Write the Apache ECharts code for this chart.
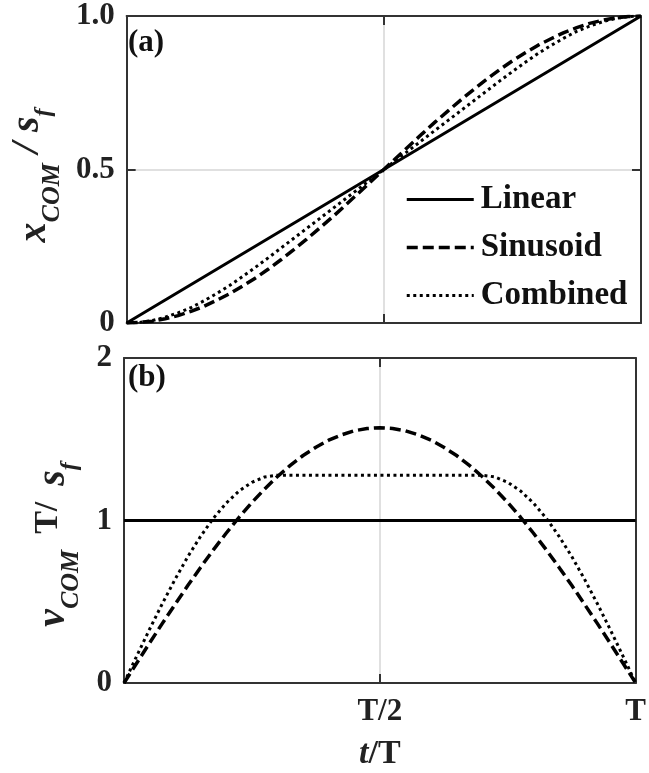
<!DOCTYPE html>
<html>
<head>
<meta charset="utf-8">
<script src="https://cdn.jsdelivr.net/npm/echarts@6/dist/echarts.min.js"></script>
<style>
html,body{margin:0;padding:0;background:#fff}
#main{width:649px;height:773px}
</style>
</head>
<body>
<div id="main"></div>
<script>
// normalised time t/T
var tVals = [0,0.025,0.05,0.075,0.1,0.125,0.15,0.175,0.2,0.225,0.25,0.275,0.3,0.325,0.35,0.375,0.4,0.425,0.45,0.475,0.5,0.525,0.55,0.575,0.6,0.625,0.65,0.675,0.7,0.725,0.75,0.775,0.8,0.825,0.85,0.875,0.9,0.925,0.95,0.975,1];
var tLin = [0,0.5,1];

// (a) position x_COM / s_f
var xLin  = [0,0.5,1];
var xSin  = [0,0.002,0.006,0.014,0.024,0.038,0.054,0.074,0.095,0.120,0.146,0.175,0.206,0.239,0.273,0.309,0.345,0.383,0.422,0.461,0.5,0.539,0.578,0.617,0.655,0.691,0.727,0.761,0.794,0.825,0.854,0.880,0.905,0.926,0.946,0.962,0.976,0.986,0.994,0.998,1];
var xComb = [0,0.002,0.008,0.019,0.033,0.050,0.072,0.096,0.122,0.151,0.181,0.212,0.244,0.276,0.308,0.340,0.372,0.404,0.436,0.468,0.5,0.532,0.564,0.596,0.628,0.660,0.692,0.724,0.756,0.788,0.819,0.849,0.878,0.904,0.928,0.950,0.967,0.981,0.992,0.998,1];

// (b) velocity v_COM T / s_f
var vLin  = [1,1,1];
var vSin  = [0,0.123,0.246,0.367,0.485,0.601,0.713,0.821,0.923,1.020,1.111,1.194,1.271,1.339,1.400,1.451,1.494,1.527,1.552,1.566,1.571,1.566,1.552,1.527,1.494,1.451,1.400,1.339,1.271,1.194,1.111,1.020,0.923,0.821,0.713,0.601,0.485,0.367,0.246,0.123,0];
var vComb = [0,0.167,0.331,0.489,0.639,0.779,0.904,1.015,1.108,1.182,1.235,1.268,
             1.279,1.279,1.279,1.279,1.279,1.279,1.279,1.279,1.279,1.279,1.279,1.279,1.279,1.279,1.279,1.279,1.279,
             1.268,1.235,1.182,1.108,1.015,0.904,0.779,0.639,0.489,0.331,0.167,0];

var seriesNames = ['Linear','Sinusoid','Combined'];
var xTickVals = [0,0.5,1];
var xTickText = ['','T/2','T'];
var yTickValsA = [0,0.5,1];
var yTickTextA = ['0','0.5','1.0'];
var yTickValsB = [0,1,2];
var yTickTextB = ['0','1','2'];

function pairs(xs, ys){
  var out = [];
  for (var i = 0; i < xs.length; i++) out.push([xs[i], ys[i]]);
  return out;
}

var serif = '"Liberation Serif", "Times New Roman", serif';
var axisColor = '#333';

function frame(gridIndex, pos, max, interval, extra){
  var a = {
    type: 'value', gridIndex: gridIndex, position: pos,
    min: 0, max: max, interval: interval,
    axisLine: {show: true, onZero: false, lineStyle: {color: axisColor, width: 2}},
    axisTick: {show: true, inside: true, length: 9, lineStyle: {color: axisColor, width: 2}},
    axisLabel: {show: false},
    splitLine: {show: false}
  };
  for (var k in extra) a[k] = extra[k];
  return a;
}

var grid1 = {lineStyle: {color: '#e0e0e0', width: 2}};

function tok(size, italic, bold, padding){
  return {fontFamily: serif, fontSize: size, fontWeight: bold ? 'bold' : 'normal', fontStyle: italic ? 'italic' : 'normal',
          color: '#222', verticalAlign: 'top', lineHeight: size, padding: padding};
}

var nameRichA = {
  x:   tok(40, true, true, [7,0,0,0]),
  sub: tok(26, true, true, [31,0,0,0]),
  sl:  tok(40, true, true, [0,10,0,10]),
  s:   tok(40, true, true, [0,0,0,0]),
  f:   tok(24, true, true, [24,12,0,0])
};
var nameRichB = {
  v:   tok(40, true, true, [7,0,0,0]),
  sub: tok(26, true, true, [31,0,0,0]),
  t:   tok(34, false, true, [4,16,0,16]),
  s:   tok(40, true, true, [7,0,0,0]),
  f:   tok(24, true, true, [31,48,0,0])
};

var option = {
  animation: false,
  backgroundColor: '#fff',
  grid: [
    {left: 124, top: 16, width: 517, height: 307},
    {left: 124, top: 358, width: 517, height: 325}
  ],
  xAxis: [
    frame(0, 'bottom', 1, 0.5, {splitLine: grid1}),
    frame(0, 'top', 1, 0.5, {}),
    frame(1, 'bottom', 1, 0.5, {
      splitLine: grid1,
      axisLabel: {show: true, margin: 13, fontFamily: serif, fontWeight: 'bold', fontSize: 31, color: '#222',
        formatter: function(v){ return xTickText[xTickVals.indexOf(v)]; }},
      name: '{i|t}{u|/T}', nameLocation: 'middle', nameGap: 54,
      nameTextStyle: {rich: {
        i: {fontFamily: serif, fontSize: 34, fontWeight: 'bold', fontStyle: 'italic', color: '#222'},
        u: {fontFamily: serif, fontSize: 34, fontWeight: 'bold', color: '#222'}
      }}
    }),
    frame(1, 'top', 1, 0.5, {})
  ],
  yAxis: [
    frame(0, 'left', 1, 0.5, {
      splitLine: grid1,
      axisLabel: {show: true, margin: 12, fontFamily: serif, fontWeight: 'bold', fontSize: 31, color: '#222',
        formatter: function(v){ return yTickTextA[yTickValsA.indexOf(v)]; }},
      name: '{x|x}{sub|COM}{sl|/}{s|s}{f|f}', nameLocation: 'middle', nameRotate: 90, nameGap: 57,
      nameTextStyle: {rich: nameRichA}
    }),
    frame(0, 'right', 1, 0.5, {}),
    frame(1, 'left', 2, 1, {
      splitLine: grid1,
      axisLabel: {show: true, margin: 12, fontFamily: serif, fontWeight: 'bold', fontSize: 31, color: '#222',
        formatter: function(v){ return yTickTextB[yTickValsB.indexOf(v)]; }},
      name: '{v|v}{sub|COM}{t|T/}{s|s}{f|f}', nameLocation: 'middle', nameRotate: 90, nameGap: 57,
      nameTextStyle: {rich: nameRichB}
    }),
    frame(1, 'right', 2, 1, {})
  ],
  legend: {
    data: seriesNames,
    orient: 'vertical',
    left: 400, top: 178,
    itemWidth: 67, itemHeight: 30, itemGap: 15,
    itemStyle: {opacity: 0},
    lineStyle: {width: 'inherit'},
    textStyle: {fontFamily: serif, fontWeight: 'bold', fontSize: 33, color: '#111', padding: [0,0,0,2], lineHeight: 30}
  },
  graphic: [
    {type: 'text', left: 128, top: 27, style: {text: '(a)', fontFamily: serif, fontWeight: 'bold', fontSize: 31, fill: '#111'}},
    {type: 'text', left: 128, top: 362, style: {text: '(b)', fontFamily: serif, fontWeight: 'bold', fontSize: 31, fill: '#111'}}
  ],
  series: [
    {name: 'Linear', type: 'line', xAxisIndex: 0, yAxisIndex: 0, data: pairs(tLin, xLin), symbol: 'none',
      lineStyle: {color: '#000', width: 3}, itemStyle: {color: '#000'}},
    {name: 'Sinusoid', type: 'line', xAxisIndex: 0, yAxisIndex: 0, data: pairs(tVals, xSin), symbol: 'none',
      lineStyle: {color: '#000', width: 3.5, type: [11, 5]}, itemStyle: {color: '#000'}},
    {name: 'Combined', type: 'line', xAxisIndex: 0, yAxisIndex: 0, data: pairs(tVals, xComb), symbol: 'none',
      lineStyle: {color: '#000', width: 3, type: [3, 3.5]}, itemStyle: {color: '#000'}},
    {name: 'Linear', type: 'line', xAxisIndex: 2, yAxisIndex: 2, data: pairs(tLin, vLin), symbol: 'none',
      lineStyle: {color: '#000', width: 3}, itemStyle: {color: '#000'}},
    {name: 'Sinusoid', type: 'line', xAxisIndex: 2, yAxisIndex: 2, data: pairs(tVals, vSin), symbol: 'none',
      lineStyle: {color: '#000', width: 3.5, type: [11, 5]}, itemStyle: {color: '#000'}},
    {name: 'Combined', type: 'line', xAxisIndex: 2, yAxisIndex: 2, data: pairs(tVals, vComb), symbol: 'none',
      lineStyle: {color: '#000', width: 3, type: [3, 3.5]}, itemStyle: {color: '#000'}}
  ]
};

var chart = echarts.init(document.getElementById('main'));
chart.setOption(option);
</script>
</body>
</html>
